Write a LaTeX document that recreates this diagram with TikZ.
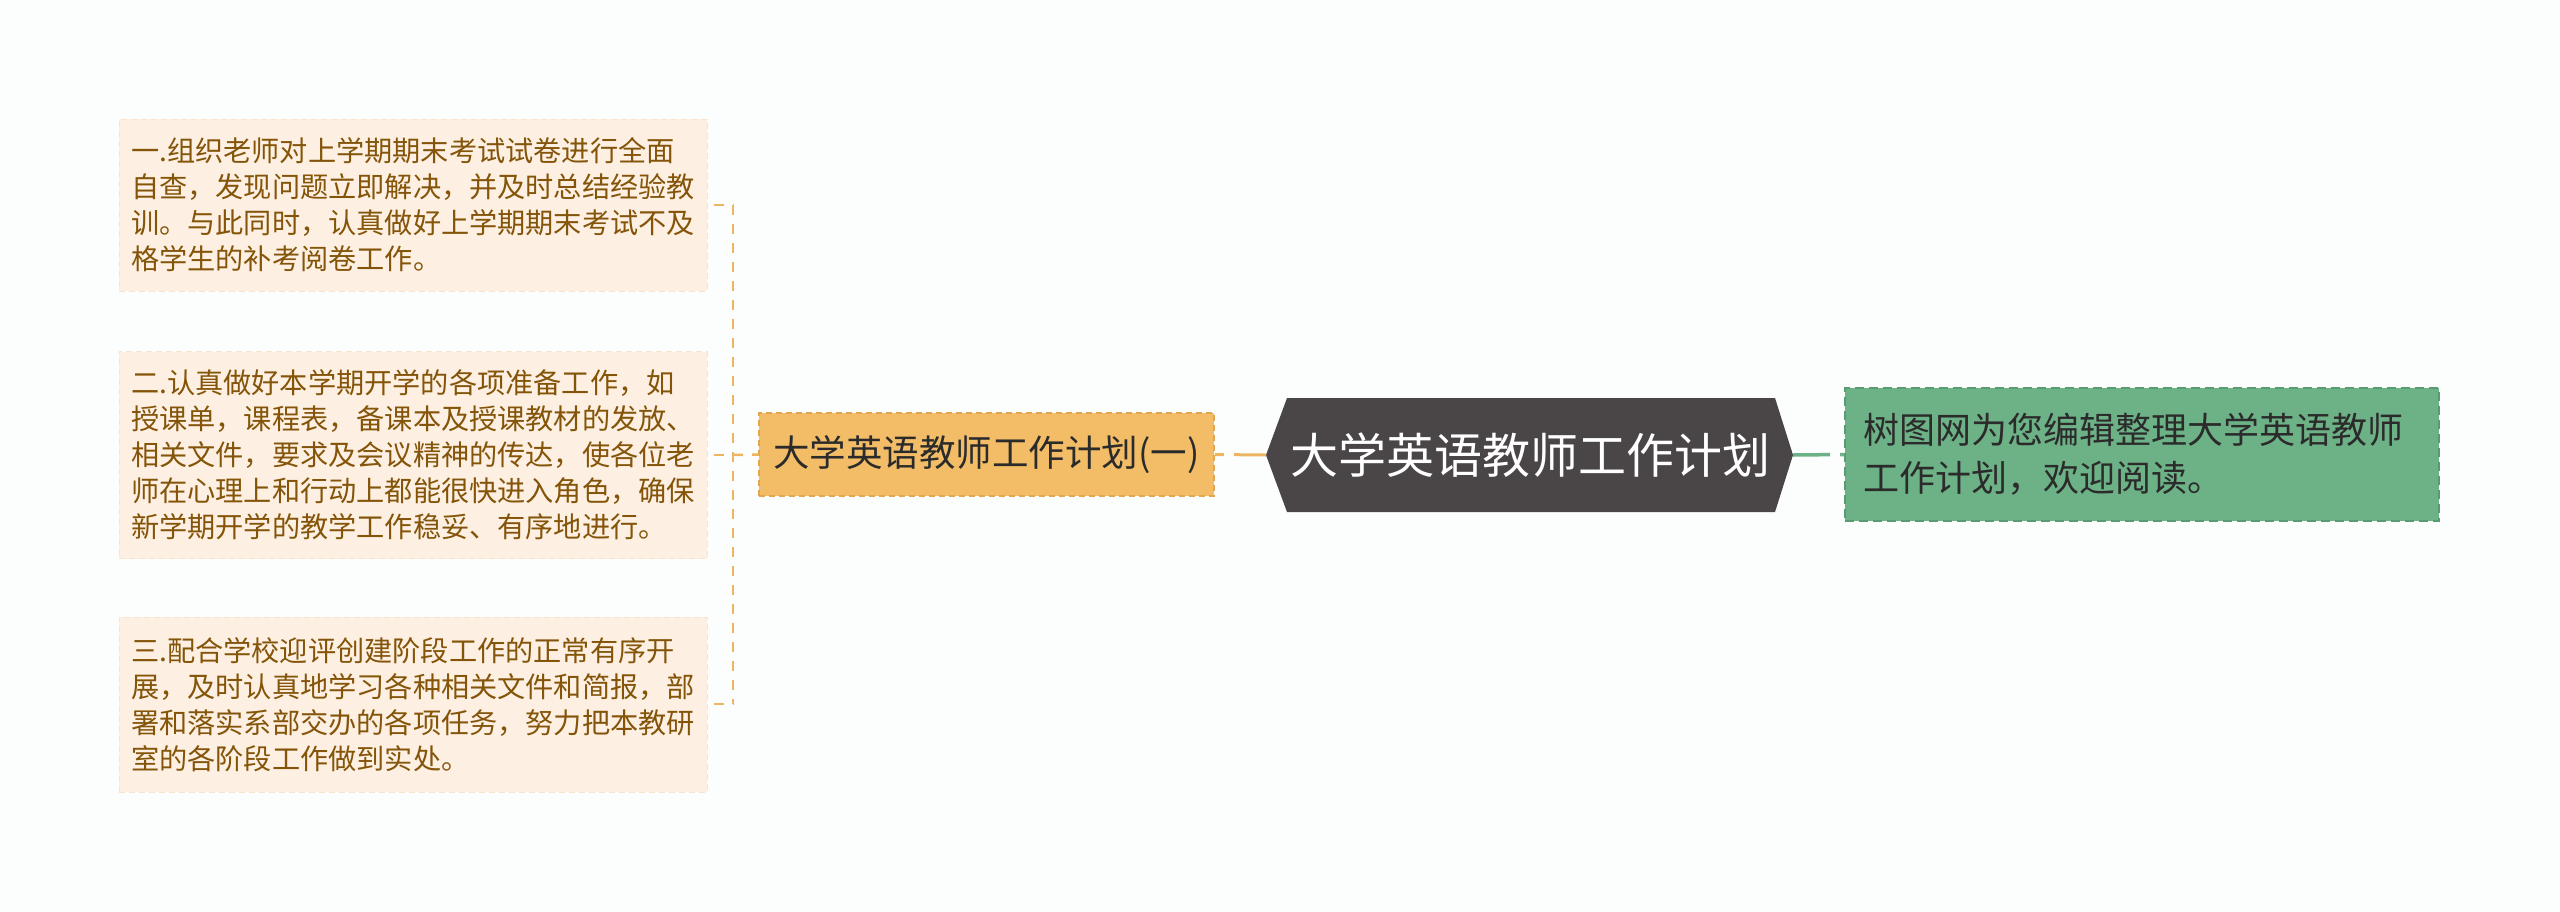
\documentclass[tikz,border=0pt]{standalone}
\usepackage{fontspec}
\setmainfont{Noto Sans CJK SC}
\newfontfamily\cjk{Noto Sans CJK SC}
\definecolor{bgc}{HTML}{FCFEFE}
\definecolor{leaffill}{HTML}{FDF0E2}
\definecolor{leafborder}{HTML}{F8E4CC}
\definecolor{leaftext}{HTML}{845409}
\definecolor{subfill}{HTML}{F2BD66}
\definecolor{subborder}{HTML}{E3A64E}
\definecolor{orangeline}{HTML}{EDB560}
\definecolor{mainfill}{HTML}{4A4546}
\definecolor{greenfill}{HTML}{6DB286}
\definecolor{greenborder}{HTML}{5A9C71}
\definecolor{darktext}{HTML}{2B2B2B}
\tikzset{
  leafbox/.style={draw=leafborder, fill=leaffill, dashed, dash pattern=on 6pt off 4pt, line width=1pt,
    minimum width=588pt, inner xsep=12pt, text width=564pt, align=left,
    text=leaftext, font=\cjk\fontsize{28.2}{36}\selectfont},
  subbox/.style={draw=subborder, fill=subfill, dash pattern=on 6pt off 4pt, line width=1.5pt,
    minimum width=455pt, minimum height=83pt, text=darktext, font=\cjk\fontsize{36.5}{44}\selectfont},
  greenbox/.style={draw=greenborder, fill=greenfill, dash pattern=on 9pt off 5pt, line width=1.5pt,
    minimum width=594pt, minimum height=133pt, inner xsep=18pt, text width=558pt, align=left,
    text=darktext, font=\cjk\fontsize{36}{48}\selectfont},
  bracketline/.style={draw=orangeline, line width=2.5pt, dash pattern=on 10pt off 9pt},
  orangeconn/.style={draw=orangeline, line width=3pt, dash pattern=on 9pt off 10pt on 34pt off 0pt},
  greenconn/.style={draw=greenfill, line width=3.5pt, dash pattern=on 37pt off 10pt on 10pt off 0pt},
}
\begin{document}
\begin{tikzpicture}[x=1pt,y=1pt]
\fill[bgc] (0,0) rectangle (2560,-911);
\useasboundingbox (0,0) rectangle (2560,-911);

% leaf boxes
\node[leafbox, minimum height=172pt] (b1) at (413,-205) {一.组织老师对上学期期末考试试卷进行全面\\自查，发现问题立即解决，并及时总结经验教\\训。与此同时，认真做好上学期期末考试不及\\格学生的补考阅卷工作。};
\node[leafbox, minimum height=207pt] (b2) at (413,-455) {二.认真做好本学期开学的各项准备工作，如\\授课单，课程表，备课本及授课教材的发放、\\相关文件，要求及会议精神的传达，使各位老\\师在心理上和行动上都能很快进入角色，确保\\新学期开学的教学工作稳妥、有序地进行。};
\node[leafbox, minimum height=175pt] (b3) at (413,-704.5) {三.配合学校迎评创建阶段工作的正常有序开\\展，及时认真地学习各种相关文件和简报，部\\署和落实系部交办的各项任务，努力把本教研\\室的各阶段工作做到实处。};

% sub node
\node[subbox] (sub) at (986.5,-454.5) {大学英语教师工作计划(一)};

% main hexagon
\coordinate (mainL) at (1266,-455);
\coordinate (mainR) at (1793,-455);
\fill[mainfill] (mainL) -- (1287,-398) -- (1775,-398) -- (mainR) -- (1775,-512) -- (1287,-512) -- cycle;
\node[text=white, font=\cjk\fontsize{48}{56}\selectfont] (main) at (1530,-455) {大学英语教师工作计划};

% green box
\node[greenbox] (note) at (2142,-454.5) {树图网为您编辑整理大学英语教师\\工作计划，欢迎阅读。};

% bracket
\coordinate (brT) at (733,-205);
\coordinate (brM) at (733,-455);
\coordinate (brB) at (733,-704);
\draw[bracketline] (brT) -- (brB);
\draw[bracketline] ([xshift=6pt]b1.east) -- (brT);
\draw[bracketline] ([xshift=6pt]b2.east) -- (brM);
\draw[bracketline] ([xshift=6pt]b3.east |- brB) -- (brB);
\draw[bracketline] (brM) -- (sub.west);

% connectors
\draw[orangeconn] (sub.east) -- (mainL);
\draw[greenconn] (mainR) -- (note.west);
\end{tikzpicture}
\end{document}
